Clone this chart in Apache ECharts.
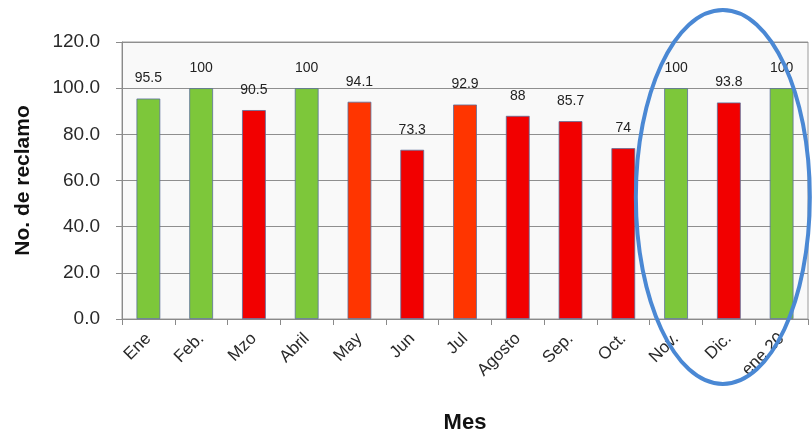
<!DOCTYPE html>
<html><head><meta charset="utf-8">
<script src="https://cdn.jsdelivr.net/npm/echarts@6/dist/echarts.min.js"></script>
<style>html,body{margin:0;padding:0;background:#fff}#c{width:812px;height:439px}</style>
</head><body><div id="c"></div>
<script>
const categories = ['Ene','Feb.','Mzo','Abril','May','Jun','Jul','Agosto','Sep.','Oct.','Nov.','Dic.','ene 20'];
const values = [95.5,100,90.5,100,94.1,73.3,92.9,88,85.7,74,100,93.8,100];
const labels = ['95.5','100','90.5','100','94.1','73.3','92.9','88','85.7','74','100','93.8','100'];
const barColors = ['#7dc73a','#7dc73a','#f20000','#7dc73a','#ff3500','#f20000','#ff3500','#f20000','#f20000','#f20000','#7dc73a','#f20000','#7dc73a'];
const yTicks = {min:0, max:120, interval:20};

const chart = echarts.init(document.getElementById('c'));
chart.setOption({
  animation:false,
  backgroundColor:'#fff',
  grid:{left:122, right:4, top:42, bottom:116, show:true, backgroundColor:'#f9f9f9', borderColor:'#9a9a9a', borderWidth:1},
  xAxis:{
    type:'category', data:categories,
    name:'Mes', nameLocation:'middle', nameGap:93,
    nameTextStyle:{fontFamily:'Liberation Sans', fontWeight:'bold', fontSize:22, color:'#111'},
    axisLine:{lineStyle:{color:'#8a8a8a'}},
    axisTick:{show:true, length:6, lineStyle:{color:'#8a8a8a'}},
    axisLabel:{rotate:45, fontSize:17, color:'#2a2a2a', fontFamily:'Liberation Sans', margin:17}
  },
  yAxis:{
    type:'value', min:yTicks.min, max:yTicks.max, interval:yTicks.interval,
    name:'No. de reclamo', nameLocation:'middle', nameGap:88, nameRotate:90,
    nameTextStyle:{fontFamily:'Liberation Sans', fontWeight:'bold', fontSize:21, color:'#111'},
    axisLine:{show:true, lineStyle:{color:'#8a8a8a'}},
    axisTick:{show:true, length:6, lineStyle:{color:'#8a8a8a'}},
    splitLine:{lineStyle:{color:'#8f8f8f', width:1}},
    axisLabel:{fontSize:19, color:'#2a2a2a', fontFamily:'Liberation Sans', margin:22, formatter:v=>v.toFixed(1)}
  },
  series:[{
    type:'bar',
    data:values.map((v,i)=>({value:v, itemStyle:{color:barColors[i]}})),
    barWidth:'45%',
    itemStyle:{borderColor:'#5a6f9a', borderWidth:0.8},
    label:{show:true, position:'top', distance:13, fontSize:14, color:'#222', fontFamily:'Liberation Sans',
      formatter:p=>labels[p.dataIndex]}
  }]
});
// Annotation ellipse around the last three months
const pA = chart.convertToPixel({xAxisIndex:0, yAxisIndex:0}, [10, 0]);
const pB = chart.convertToPixel({xAxisIndex:0, yAxisIndex:0}, [12, 0]);
const cx = (pA[0]+pB[0])/2 - 6;
chart.setOption({graphic:[{type:'ellipse', shape:{cx:cx, cy:197, rx:87, ry:187},
  style:{fill:'none', stroke:'#4a88d4', lineWidth:4}, z:100}]});
</script></body></html>
